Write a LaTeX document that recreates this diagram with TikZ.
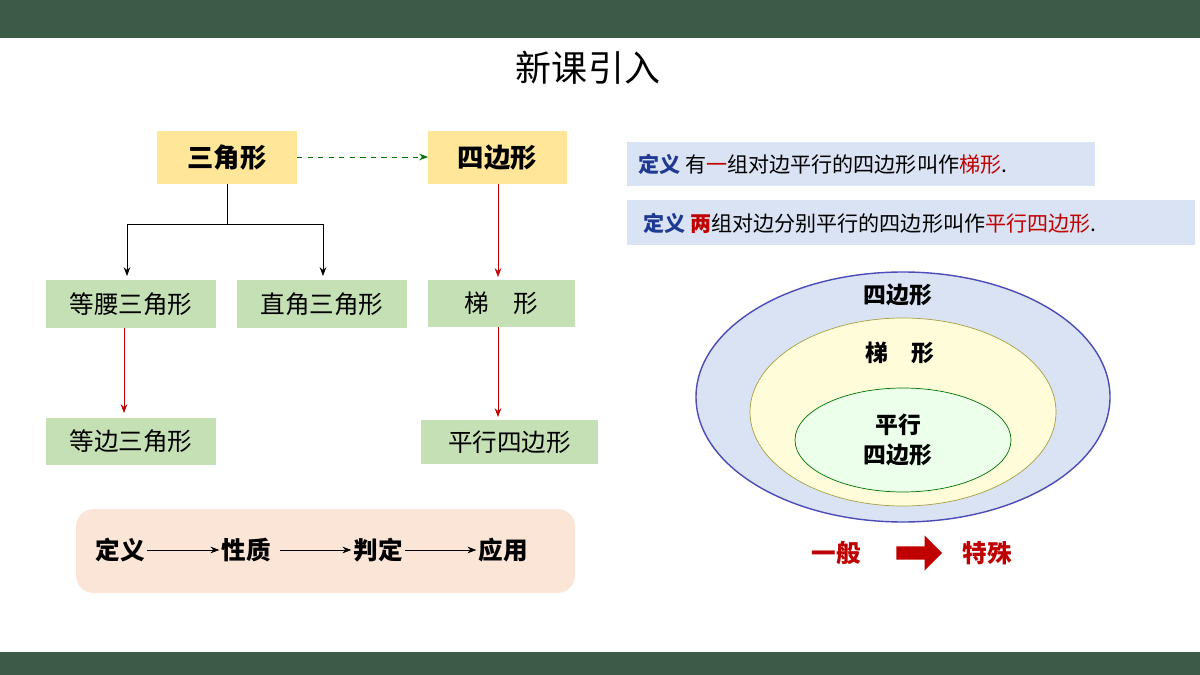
\documentclass[tikz,border=0pt]{standalone}
\usepackage{fontspec}
\setmainfont{Noto Sans CJK SC}
\usetikzlibrary{arrows.meta,shapes.geometric,shapes.arrows}
\definecolor{bar}{HTML}{3C5A47}
\definecolor{yel}{HTML}{FFE699}
\definecolor{grn}{HTML}{C5E0B4}
\definecolor{pnk}{HTML}{FBE5D6}
\definecolor{blu}{HTML}{DAE3F3}
\definecolor{dred}{HTML}{C00000}
\definecolor{dblue}{HTML}{1F3A93}
\tikzset{
  ybox/.style={fill=yel},
  gbox/.style={fill=grn},
  redarr/.style={-{Stealth[length=5pt]},dred,thin},
  blkarr/.style={-{Stealth[length=5pt]},black,thin},
  chainlbl/.style={font=\fontsize{14}{14}\selectfont\bfseries,inner sep=1pt},
}
\begin{document}
\begin{tikzpicture}[x=0.02cm,y=-0.02cm]
\useasboundingbox (0,0) rectangle (1200,675);
\fill[white] (0,0) rectangle (1200,675);
\fill[bar] (0,0) rectangle (1200,38);
\fill[bar] (0,652) rectangle (1200,675);
\node (title) at (588,68) {\fontsize{20.5}{20.5}\selectfont 新课引入};
% left tree
\path[ybox] (157,131) rectangle (297,184);
\node (tri) at (227,157.5) {\fontsize{15}{15}\selectfont\bfseries 三角形};
\path[ybox] (428,131) rectangle (567,184);
\node (quad) at (497.5,157.5) {\fontsize{15}{15}\selectfont\bfseries 四边形};
\draw[dashed,color=green!45!black,-{Stealth[length=5pt]}] (297,157) -- (428,157);
\path[gbox] (46,280) rectangle (216,328);
\node (iso) at (131,304) {\fontsize{14}{14}\selectfont 等腰三角形};
\path[gbox] (237,280) rectangle (407,328);
\node (rt) at (322,304) {\fontsize{14}{14}\selectfont 直角三角形};
\path[gbox] (428,280) rectangle (575,327);
\node (trap) at (501.5,303.5) {\fontsize{14}{14}\selectfont 梯\quad 形};
\path[gbox] (46,418) rectangle (216,465);
\node (equi) at (131,441.5) {\fontsize{14}{14}\selectfont 等边三角形};
\path[gbox] (421,420) rectangle (598,464);
\node (para) at (509.5,442) {\fontsize{14}{14}\selectfont 平行四边形};
\draw[thin] (227,184) -- (227,224) coordinate (j);
\draw[blkarr] (j) -| (127,276);
\draw[blkarr] (j) -| (323,276);
\draw[redarr] (498,184) -- (498,277);
\draw[redarr] (124,328) -- (124,413);
\draw[redarr] (498,327) -- (498,417);
% bottom box
\fill[pnk,rounded corners=10pt] (76,509) rectangle (575,593);
\node[chainlbl] (c1) at (120,550) {定义};
\node[chainlbl] (c2) at (246,550) {性质};
\node[chainlbl] (c3) at (378,550) {判定};
\node[chainlbl] (c4) at (503,550) {应用};
\draw[-{Stealth[length=5pt]}] (c1) -- (c2);
\draw[-{Stealth[length=5pt]}] ([xshift=4pt]c2.east) -- (c3);
\draw[-{Stealth[length=5pt]}] (c3) -- (c4);
% definitions
\fill[blu] (627,142) rectangle (1095,186);
\node[anchor=west] (d1) at (632,164) {\fontsize{12}{12}\selectfont{\bfseries\color{dblue}定义} 有{\color{dred}一}组对边平行的四边形叫作{\color{dred}梯形}.};
\fill[blu] (627,200) rectangle (1195,245);
\node[anchor=west] (d2) at (637,223) {\fontsize{12}{12}\selectfont{\bfseries\color{dblue}定义} {\bfseries\color{dred}两}组对边分别平行的四边形叫作{\color{dred}平行四边形}.};
% ellipses
\draw[fill=blu,draw=blue!60!black!70,thick] (903,397) ellipse [x radius=207,y radius=125];
\draw[fill=yellow!15,draw=yellow!60!black] (903,412) ellipse [x radius=153,y radius=94];
\draw[fill=green!8,draw=green!45!black] (903,440) ellipse [x radius=108,y radius=52];
\node (eq) at (898,295) {\fontsize{13}{13}\selectfont\bfseries 四边形};
\node (et) at (900,353) {\fontsize{13}{13}\selectfont\bfseries 梯\quad 形};
\node[align=center,font=\fontsize{13}{17}\selectfont\bfseries] (ep) at (898,440) {平行\\四边形};
\node[text=dred] (gen) at (836,553) {\fontsize{14}{14}\selectfont\bfseries 一般};
\node[text=dred] (spe) at (987,553) {\fontsize{14}{14}\selectfont\bfseries 特殊};
\node[single arrow,fill=dred,minimum width=20pt,single arrow head extend=2pt,minimum height=26pt,inner sep=1pt] (arr) at (916,553) {};
\end{tikzpicture}
\end{document}
